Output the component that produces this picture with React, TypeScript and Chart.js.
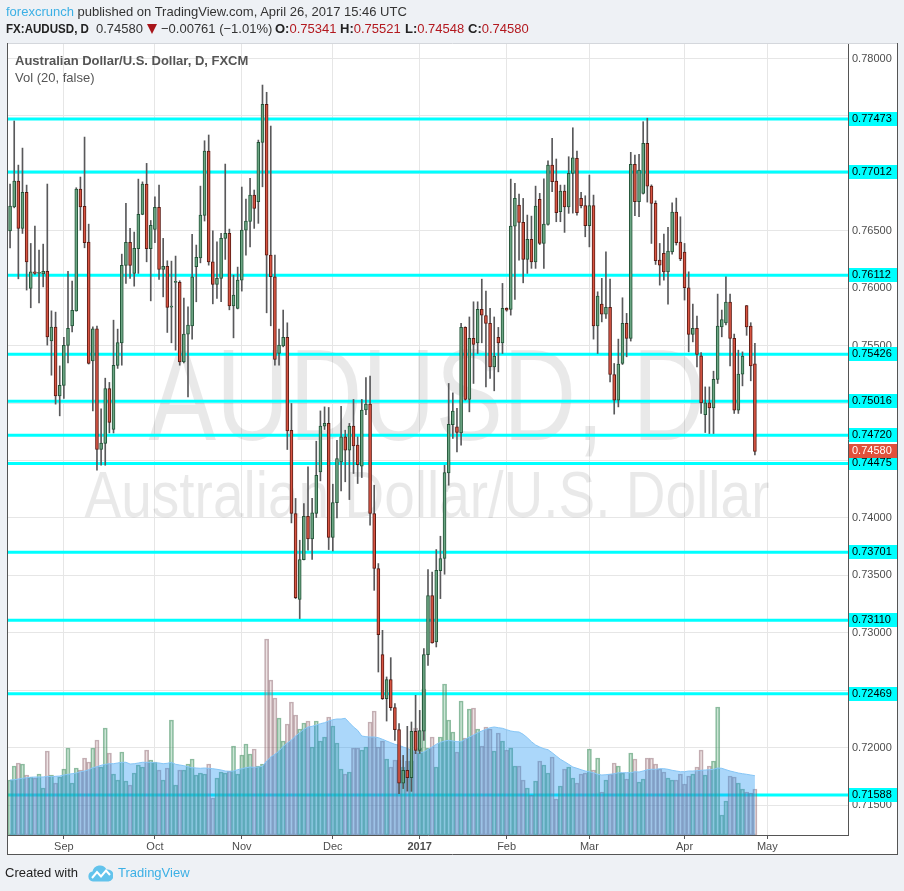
import React, { useEffect, useRef } from 'react';
import { Chart, registerables } from 'chart.js';

Chart.register(...registerables);

// ---------- data (daily AUDUSD, FXCM, Aug 15 2016 – Apr 26 2017) ----------
const OPEN = [
  0.7650, 0.76709, 0.76933, 0.76521, 0.76835, 0.75998, 0.76143, 0.7613, 0.76124, 0.76147,
  0.75542, 0.75661, 0.75063, 0.75154, 0.75502, 0.75673, 0.75803, 0.76863, 0.76713, 0.76402,
  0.75368, 0.75647, 0.74596, 0.74649, 0.75127, 0.7477, 0.75328, 0.75525, 0.76199, 0.76399,
  0.76129, 0.76344, 0.76643, 0.76907, 0.76344, 0.76512, 0.76704, 0.76164, 0.7619, 0.75836,
  0.7605, 0.76051, 0.75359, 0.756, 0.75673, 0.76187, 0.76265, 0.76634, 0.77194, 0.7623,
  0.76033, 0.76086, 0.76434, 0.76477, 0.75847, 0.75824, 0.76071, 0.76506, 0.76582, 0.76811,
  0.76753, 0.7727, 0.77601, 0.76288, 0.761, 0.75432, 0.75498, 0.75572, 0.74764, 0.74039,
  0.7329, 0.73638, 0.74015, 0.73817, 0.74039, 0.74401, 0.74799, 0.74823, 0.7383, 0.74134,
  0.74488, 0.74706, 0.7459, 0.74801, 0.74634, 0.7445, 0.7494, 0.74991, 0.74039, 0.7356,
  0.72811, 0.72427, 0.72593, 0.72349, 0.72157, 0.71692, 0.71803, 0.71739, 0.72142, 0.71977,
  0.72145, 0.72811, 0.73324, 0.7292, 0.73542, 0.73647, 0.74393, 0.74813, 0.74793, 0.74741,
  0.75659, 0.75032, 0.75563, 0.75525, 0.75816, 0.75763, 0.75694, 0.75316, 0.75572, 0.75525,
  0.75824, 0.75816, 0.76541, 0.76724, 0.76573, 0.76251, 0.76425, 0.7623, 0.76774, 0.7639,
  0.76555, 0.77072, 0.76933, 0.76666, 0.76846, 0.76709, 0.77, 0.77131, 0.76782, 0.7672,
  0.76544, 0.7672, 0.75673, 0.75862, 0.75775, 0.75833, 0.75249, 0.75025, 0.75345, 0.75694,
  0.75563, 0.77078, 0.76753, 0.76826, 0.77261, 0.76889, 0.76739, 0.76245, 0.76303, 0.76143,
  0.76317, 0.76663, 0.76402, 0.76315, 0.76004, 0.75598, 0.7565, 0.75411, 0.749, 0.75002,
  0.74958, 0.75206, 0.75664, 0.75699, 0.75879, 0.75563, 0.74938, 0.75252, 0.7585, 0.7567,
  0.75341,
];

const HIGH = [
  0.76907, 0.77456, 0.77072, 0.7722, 0.76898, 0.7639, 0.76541, 0.76332, 0.76384, 0.76907,
  0.75803, 0.75792, 0.75324, 0.75572, 0.76147, 0.76062, 0.76875, 0.76968, 0.77316, 0.76558,
  0.75664, 0.7567, 0.7495, 0.75217, 0.7518, 0.75722, 0.75644, 0.76297, 0.76739, 0.76521,
  0.76489, 0.7695, 0.76926, 0.77087, 0.7659, 0.76796, 0.76898, 0.76434, 0.76239, 0.76236,
  0.7628, 0.76065, 0.75914, 0.75838, 0.76469, 0.76376, 0.76889, 0.77284, 0.77334, 0.765,
  0.76404, 0.76477, 0.77081, 0.76515, 0.76114, 0.76184, 0.76881, 0.76776, 0.76957, 0.76855,
  0.7729, 0.77769, 0.77706, 0.77412, 0.76288, 0.75644, 0.7581, 0.75699, 0.74997, 0.7417,
  0.73806, 0.74126, 0.74445, 0.7417, 0.74668, 0.74932, 0.74967, 0.74962, 0.74294, 0.74677,
  0.74973, 0.74764, 0.74823, 0.75032, 0.74706, 0.75032, 0.75223, 0.75235, 0.74285, 0.73603,
  0.73022, 0.72616, 0.72784, 0.72384, 0.72209, 0.71933, 0.72186, 0.72224, 0.72456, 0.72325,
  0.72863, 0.73551, 0.7353, 0.73725, 0.73841, 0.74459, 0.75171, 0.75089, 0.74954, 0.75694,
  0.75664, 0.7575, 0.75882, 0.75882, 0.76079, 0.75975, 0.75824, 0.7575, 0.75659, 0.76042,
  0.7583, 0.7695, 0.76913, 0.7682, 0.76782, 0.76637, 0.76628, 0.76889, 0.76826, 0.76953,
  0.7711, 0.77305, 0.77125, 0.76898, 0.76898, 0.77145, 0.77397, 0.77194, 0.76835, 0.76805,
  0.76985, 0.76811, 0.75969, 0.76086, 0.76317, 0.76079, 0.75345, 0.75557, 0.75917, 0.75781,
  0.77183, 0.7716, 0.77166, 0.7745, 0.7748, 0.769, 0.76761, 0.7639, 0.76471, 0.7653,
  0.76744, 0.76785, 0.76622, 0.7639, 0.76143, 0.75862, 0.75757, 0.7544, 0.75141, 0.75141,
  0.75278, 0.75949, 0.7581, 0.761, 0.75949, 0.75601, 0.75461, 0.75446, 0.7585, 0.757,
  0.75521,
];

const LOW = [
  0.76352, 0.767, 0.76082, 0.76477, 0.75984, 0.7583, 0.7612, 0.75873, 0.76012, 0.75505,
  0.75243, 0.74991, 0.74889, 0.7504, 0.7535, 0.7562, 0.758, 0.76506, 0.76352, 0.7534,
  0.74932, 0.74416, 0.74459, 0.74459, 0.74741, 0.7474, 0.75302, 0.7533, 0.76042, 0.76086,
  0.76018, 0.76129, 0.7664, 0.7623, 0.7589, 0.76396, 0.76077, 0.75925, 0.75615, 0.75525,
  0.75461, 0.7533, 0.7535, 0.75054, 0.75557, 0.75882, 0.76221, 0.76585, 0.76201, 0.75864,
  0.75911, 0.75882, 0.76251, 0.75812, 0.75568, 0.7582, 0.75975, 0.76288, 0.7636, 0.76521,
  0.76565, 0.76883, 0.75786, 0.75673, 0.7533, 0.7533, 0.7549, 0.74596, 0.73957, 0.73298,
  0.73124, 0.73635, 0.73719, 0.7364, 0.74004, 0.74323, 0.7477, 0.73725, 0.73713, 0.74,
  0.74236, 0.74315, 0.7416, 0.74387, 0.743, 0.74352, 0.749, 0.73937, 0.7337, 0.72659,
  0.7242, 0.72232, 0.72325, 0.72064, 0.716, 0.71644, 0.71622, 0.7162, 0.71948, 0.7195,
  0.72064, 0.72717, 0.7291, 0.72877, 0.73298, 0.7351, 0.74285, 0.74692, 0.74575, 0.74633,
  0.75026, 0.74924, 0.75171, 0.75432, 0.75525, 0.75141, 0.75215, 0.75107, 0.75272, 0.75432,
  0.758, 0.75766, 0.75903, 0.76245, 0.76047, 0.76129, 0.76173, 0.76173, 0.7638, 0.76173,
  0.7655, 0.7684, 0.76579, 0.76579, 0.76486, 0.76652, 0.76654, 0.76637, 0.767, 0.76448,
  0.7636, 0.75557, 0.75432, 0.75707, 0.75737, 0.75185, 0.74904, 0.74967, 0.75336, 0.75403,
  0.7554, 0.76631, 0.76622, 0.7682, 0.7675, 0.7639, 0.76207, 0.76027, 0.7607, 0.75862,
  0.76297, 0.76376, 0.7624, 0.75897, 0.75446, 0.75533, 0.75315, 0.7491, 0.74744, 0.74735,
  0.74735, 0.75171, 0.75577, 0.7568, 0.75324, 0.7491, 0.7491, 0.7515, 0.7559, 0.75194,
  0.74548,
];

const CLOSE = [
  0.76715, 0.76933, 0.76521, 0.76835, 0.7623, 0.76143, 0.7613, 0.76132, 0.76147, 0.75577,
  0.75661, 0.75063, 0.75154, 0.75502, 0.7565, 0.75807, 0.76863, 0.76709, 0.76396, 0.75345,
  0.75647, 0.74596, 0.74651, 0.75127, 0.74831, 0.75328, 0.75528, 0.76199, 0.76399, 0.76199,
  0.76347, 0.76643, 0.76907, 0.76344, 0.76547, 0.76704, 0.76164, 0.7619, 0.75833, 0.75838,
  0.7606, 0.75359, 0.756, 0.75679, 0.761, 0.76268, 0.76637, 0.77194, 0.7623, 0.76033,
  0.76086, 0.76434, 0.76477, 0.75847, 0.7594, 0.76071, 0.76506, 0.76585, 0.76811, 0.76695,
  0.7727, 0.77601, 0.76288, 0.761, 0.7538, 0.75505, 0.75572, 0.74758, 0.74039, 0.73307,
  0.73638, 0.74015, 0.73817, 0.74044, 0.74372, 0.74799, 0.74823, 0.7383, 0.74134, 0.74518,
  0.74706, 0.7459, 0.74801, 0.74628, 0.74463, 0.7494, 0.74991, 0.74039, 0.7356, 0.72985,
  0.72427, 0.72593, 0.72349, 0.72157, 0.71692, 0.71803, 0.71739, 0.72142, 0.71977, 0.7215,
  0.72811, 0.73324, 0.72912, 0.73545, 0.73647, 0.74396, 0.74816, 0.7493, 0.74744, 0.75659,
  0.75032, 0.75563, 0.75511, 0.75816, 0.75766, 0.75694, 0.75316, 0.75409, 0.75525, 0.75824,
  0.7581, 0.76541, 0.76782, 0.76573, 0.76251, 0.76425, 0.7623, 0.76715, 0.7639, 0.76558,
  0.77072, 0.76927, 0.76657, 0.76846, 0.76709, 0.77, 0.77136, 0.76657, 0.76718, 0.76544,
  0.7672, 0.75673, 0.75931, 0.75775, 0.75833, 0.75249, 0.75025, 0.75339, 0.75694, 0.75563,
  0.77078, 0.76753, 0.77029, 0.77261, 0.76889, 0.76739, 0.76239, 0.76201, 0.76143, 0.76323,
  0.76663, 0.76396, 0.76256, 0.76004, 0.75598, 0.7565, 0.75424, 0.75002, 0.75002, 0.74958,
  0.75206, 0.7567, 0.75728, 0.75879, 0.75563, 0.74938, 0.75252, 0.75409, 0.75664, 0.75324,
  0.7458,
];

const VOLUME = [
  55, 69, 72, 71, 60, 58, 57, 61, 47, 84,
  60, 52, 58, 66, 87, 52, 67, 65, 77, 73,
  87, 95, 68, 107, 82, 61, 55, 83, 54, 50,
  62, 70, 68, 85, 75, 73, 65, 55, 67, 115,
  50, 65, 65, 71, 76, 60, 62, 61, 71, 37,
  57, 63, 62, 64, 89, 61, 80, 91, 81, 86,
  69, 71, 196, 155, 137, 117, 94, 111, 133, 120,
  106, 112, 114, 88, 114, 94, 98, 118, 109, 92,
  66, 61, 63, 87, 87, 85, 88, 113, 124, 88,
  94, 76, 68, 75, 75, 68, 74, 74, 107, 87,
  146, 87, 98, 68, 98, 151, 115, 103, 83, 134,
  97, 126, 127, 106, 89, 108, 106, 84, 102, 94,
  85, 87, 69, 69, 55, 47, 40, 54, 74, 70,
  62, 78, 36, 49, 66, 68, 57, 52, 61, 62,
  86, 65, 77, 43, 55, 61, 72, 69, 62, 56,
  82, 76, 53, 56, 77, 77, 71, 66, 63, 57,
  55, 55, 61, 51, 59, 61, 68, 85, 60, 69,
  74, 128, 20, 34, 59, 58, 52, 46, 43, 42,
  46,
];

const VOLUME_MA = [
  55, 55.3, 56, 56.7, 57.3, 57.7, 58, 58, 58, 58.7,
  58.3, 58.7, 59, 60, 60.7, 61.3, 62, 63.3, 64, 65.3,
  67.3, 68.3, 69.7, 70.7, 71.3, 71.3, 72, 72.7, 72.7, 71,
  71.3, 72, 72.7, 72.7, 72.7, 72.3, 72, 71.3, 71.7, 72.7,
  70.7, 70, 69.3, 68.3, 67.3, 67, 66.7, 67, 66.7, 66.3,
  65.7, 65, 64, 63.7, 64, 65.3, 66.3, 67.3, 68, 67.7,
  68, 68.7, 74, 78, 80.7, 84, 88.7, 92, 95, 99,
  102.3, 105.7, 108, 108.7, 110, 111.3, 112.3, 114, 115.3, 116,
  116, 116.7, 112.3, 108, 104.7, 99, 98.3, 98, 98, 97.3,
  95.7, 94, 92.3, 90.7, 89.7, 88, 86.7, 84.7, 83.3, 82.3,
  83, 85.7, 88, 90.7, 92.7, 94, 94.7, 94, 93.3, 93.3,
  95.7, 98, 100, 102.3, 104, 105.7, 107.3, 108, 107.3, 106.7,
  105.3, 104, 103.3, 103, 100.7, 97.3, 93.3, 90, 88, 86.3,
  85.3, 82.3, 79, 75.7, 73.3, 70.7, 68, 66.7, 65.3, 64,
  63.3, 62.3, 60.7, 60, 60.3, 60.7, 61.3, 62.3, 62.3, 62.3,
  62.3, 63.3, 63, 64, 65.3, 65.7, 65.7, 66.3, 66.3, 65.7,
  64.7, 64, 63.3, 63.3, 64, 64, 64.3, 64.7, 65, 65.3,
  65.7, 67, 66.7, 65.3, 64, 63, 62, 61.3, 60.7, 60,
  59.3,
];

const LEVELS = [0.77473, 0.77012, 0.76112, 0.75426, 0.75016, 0.7472, 0.74475, 0.73701, 0.7311, 0.72469, 0.71588];
const LAST_PRICE = 0.7458;
const PRICE_TICKS = [0.715, 0.72, 0.725, 0.73, 0.735, 0.74, 0.745, 0.75, 0.755, 0.76, 0.765, 0.77, 0.775, 0.78];
const MONTH_TICKS = [13, 35, 56, 78, 99, 120, 140, 163, 183];
const MONTH_LABELS = ['Sep', 'Oct', 'Nov', 'Dec', '2017', 'Feb', 'Mar', 'Apr', 'May'];
const N_SLOTS = 203;
const Y_MIN = 0.7124;
const Y_MAX = 0.78135;
const VOL_MAX = 792;

// ---------- styles ----------
const FONT = '"Liberation Sans", Arial, sans-serif';
const UP = '#6ba583';
const DOWN = '#d75442';
const UP_BORDER = '#225437';
const DOWN_BORDER = '#5b1a13';
const WICK = '#59595b';
const VOL_UP = 'rgba(100,175,130,0.33)';
const VOL_UP_B = 'rgba(70,145,100,0.6)';
const VOL_DOWN = 'rgba(175,135,140,0.24)';
const VOL_DOWN_B = 'rgba(140,100,110,0.5)';
const PAGE_BG = '#eef1f5';
const RED_TXT = '#b3191f';
const BLUE_TXT = '#3cb0e5';

function drawFitted(ctx: CanvasRenderingContext2D, text: string, cx: number, baseline: number, size: number, width: number) {
  ctx.font = `${size}px ${FONT}`;
  const w = ctx.measureText(text).width;
  ctx.save();
  ctx.translate(cx, baseline);
  ctx.scale(width / w, 1);
  ctx.textAlign = 'center';
  ctx.textBaseline = 'alphabetic';
  ctx.fillText(text, 0, 0);
  ctx.restore();
}

export default function App() {
  const ref = useRef<HTMLCanvasElement>(null);

  useEffect(() => {
    const canvas = ref.current;
    if (!canvas) return;
    const labels = Array.from({ length: N_SLOTS }, (_, i) => String(i));
    const isUp = OPEN.map((o, i) => CLOSE[i] >= o);

    const decor = {
      id: 'decor',
      beforeDraw(chart: any) {
        const { ctx } = chart;
        ctx.save();
        ctx.fillStyle = '#ffffff';
        ctx.fillRect(7, 43, 891, 812);
        ctx.restore();
      },
      beforeDatasetsDraw(chart: any) {
        const { ctx, chartArea: a, scales } = chart;
        ctx.save();
        ctx.beginPath();
        ctx.rect(a.left - 1, a.top, a.right - a.left + 1, a.bottom - a.top);
        ctx.clip();
        ctx.fillStyle = 'rgba(0,0,0,0.085)';
        drawFitted(ctx, 'AUDUSD, D', 427, 440, 130, 557);
        drawFitted(ctx, 'Australian Dollar/U.S. Dollar', 427, 517, 64, 685);
        ctx.strokeStyle = '#00ffff';
        ctx.lineWidth = 3;
        for (const v of LEVELS) {
          const y = scales.y.getPixelForValue(v);
          ctx.beginPath();
          ctx.moveTo(a.left - 1, y);
          ctx.lineTo(a.right, y);
          ctx.stroke();
        }
        ctx.restore();
      },
      afterDraw(chart: any) {
        const { ctx, chartArea: a, scales } = chart;
        ctx.save();
        // frame
        ctx.lineWidth = 1;
        ctx.strokeStyle = '#d4d7dc';
        ctx.beginPath();
        ctx.moveTo(7, 43.5);
        ctx.lineTo(898, 43.5);
        ctx.stroke();
        ctx.strokeStyle = '#555555';
        ctx.beginPath();
        ctx.moveTo(7.5, 43);
        ctx.lineTo(7.5, 855);
        ctx.moveTo(897.5, 43);
        ctx.lineTo(897.5, 855);
        ctx.moveTo(7, 854.5);
        ctx.lineTo(898, 854.5);
        ctx.stroke();
        // price labels
        ctx.font = `11px ${FONT}`;
        ctx.textBaseline = 'middle';
        ctx.textAlign = 'left';
        for (const v of LEVELS) {
          const y = scales.y.getPixelForValue(v);
          ctx.fillStyle = '#00ffff';
          ctx.fillRect(a.right + 1, Math.round(y) - 7, 48, 14);
          ctx.fillStyle = '#000000';
          ctx.fillText(v.toFixed(5), a.right + 4, Math.round(y));
        }
        const yl = scales.y.getPixelForValue(LAST_PRICE);
        ctx.fillStyle = '#e0513c';
        ctx.fillRect(a.right + 1, Math.round(yl) - 7, 48, 14);
        ctx.fillStyle = '#ffffff';
        ctx.fillText(LAST_PRICE.toFixed(5), a.right + 4, Math.round(yl));
        // legend text
        ctx.fillStyle = '#555555';
        ctx.font = `bold 13px ${FONT}`;
        ctx.fillText('Australian Dollar/U.S. Dollar, D, FXCM', 15, 61);
        ctx.font = `13px ${FONT}`;
        ctx.fillText('Vol (20, false)', 15, 78);
        ctx.restore();
      },
    };

    const hiddenTick = (v: number) =>
      LEVELS.some((l) => Math.abs(l - v) < 0.0006) || Math.abs(LAST_PRICE - v) < 0.0006;

    const chart = new Chart(canvas, {
      type: 'bar',
      data: {
        labels,
        datasets: [
          {
            type: 'bar',
            label: 'Volume',
            yAxisID: 'v',
            data: VOLUME,
            backgroundColor: isUp.map((u) => (u ? VOL_UP : VOL_DOWN)),
            borderColor: isUp.map((u) => (u ? VOL_UP_B : VOL_DOWN_B)),
            borderWidth: 1,
            borderSkipped: false,
            barPercentage: 1,
            categoryPercentage: 1,
            grouped: false,
            order: 10,
          } as any,
          {
            type: 'line',
            label: 'Vol MA',
            yAxisID: 'v',
            data: VOLUME_MA,
            borderColor: '#86c6f6',
            borderWidth: 1,
            backgroundColor: 'rgba(33,150,243,0.38)',
            fill: 'origin',
            pointRadius: 0,
            tension: 0,
            order: 9,
          } as any,
          {
            type: 'bar',
            label: 'Wick',
            yAxisID: 'y',
            data: LOW.map((l, i) => [l, HIGH[i]]),
            backgroundColor: WICK,
            barThickness: 1,
            grouped: false,
            order: 8,
          } as any,
          {
            type: 'bar',
            label: 'Body',
            yAxisID: 'y',
            data: OPEN.map((o, i) => [o, CLOSE[i]]),
            backgroundColor: isUp.map((u) => (u ? UP : DOWN)),
            borderColor: isUp.map((u) => (u ? UP_BORDER : DOWN_BORDER)),
            borderWidth: 1,
            borderSkipped: false,
            barThickness: 3,
            minBarLength: 1,
            grouped: false,
            order: 7,
          } as any,
        ],
      },
      options: {
        responsive: false,
        animation: false,
        devicePixelRatio: 1,
        events: [],
        layout: { padding: { left: 8, top: 43, right: 6, bottom: 36 } },
        plugins: { legend: { display: false }, tooltip: { enabled: false } },
        scales: {
          x: {
            type: 'category',
            offset: true,
            grid: { offset: false, color: '#e6e6e6', tickColor: '#555555', tickLength: 4, drawTicks: true },
            border: { display: true, color: '#555555' },
            ticks: {
              autoSkip: false,
              maxRotation: 0,
              minRotation: 0,
              padding: 1,
              color: '#4d4d4d',
              font: (c: any) => ({ family: FONT, size: 11, weight: c.index === 4 ? 'bold' : 'normal' }),
              callback: (_v: any, i: number) => MONTH_LABELS[i],
            },
            afterBuildTicks: (s: any) => {
              s.ticks = MONTH_TICKS.map((v) => ({ value: v }));
            },
            afterFit: (s: any) => {
              s.height = 20;
            },
          } as any,
          y: {
            type: 'linear',
            position: 'right',
            min: Y_MIN,
            max: Y_MAX,
            grid: { color: '#e6e6e6', drawTicks: false },
            border: { display: true, color: '#555555' },
            ticks: {
              padding: 4,
              color: '#4d4d4d',
              font: { family: FONT, size: 11 },
              callback: (v: any) => (hiddenTick(Number(v)) ? '' : Number(v).toFixed(5)),
            },
            afterBuildTicks: (s: any) => {
              s.ticks = PRICE_TICKS.map((v) => ({ value: v }));
            },
            afterFit: (s: any) => {
              s.width = 50;
            },
          } as any,
          v: {
            type: 'linear',
            display: false,
            min: 0,
            max: VOL_MAX,
          },
        },
      },
      plugins: [decor],
    } as any);

    return () => chart.destroy();
  }, []);

  const txt: React.CSSProperties = {
    position: 'absolute',
    whiteSpace: 'nowrap',
    font: `13px ${FONT}`,
    lineHeight: '16px',
    color: '#333333',
  };

  return (
    <div style={{ position: 'absolute', left: 0, top: 0, width: 904, height: 891, background: PAGE_BG, overflow: 'hidden' }}>
      <canvas ref={ref} width={904} height={891} style={{ position: 'absolute', left: 0, top: 0, width: 904, height: 891 }} />
      <div style={{ ...txt, left: 6, top: 4 }}>
        <span style={{ color: BLUE_TXT }}>forexcrunch</span> published on TradingView.com, April 26, 2017 15:46 UTC
      </div>
      <div
        style={{
          ...txt,
          left: 6,
          top: 21,
          fontWeight: 'bold',
          color: '#222',
          transform: 'scaleX(0.89)',
          transformOrigin: 'left center',
        }}
      >
        FX:AUDUSD, D
      </div>
      <div style={{ ...txt, left: 96, top: 21 }}>0.74580</div>
      <svg style={{ position: 'absolute', left: 147, top: 24 }} width={10} height={10}>
        <polygon points="0,0 10,0 5,10" fill="#a8141a" />
      </svg>
      <div style={{ ...txt, left: 161, top: 21 }}>−0.00761 (−1.01%)</div>
      <div style={{ ...txt, left: 275, top: 21 }}>
        <b style={{ color: '#222' }}>O:</b>
        <span style={{ color: RED_TXT }}>0.75341</span>
      </div>
      <div style={{ ...txt, left: 340, top: 21 }}>
        <b style={{ color: '#222' }}>H:</b>
        <span style={{ color: RED_TXT }}>0.75521</span>
      </div>
      <div style={{ ...txt, left: 405, top: 21 }}>
        <b style={{ color: '#222' }}>L:</b>
        <span style={{ color: RED_TXT }}>0.74548</span>
      </div>
      <div style={{ ...txt, left: 468, top: 21 }}>
        <b style={{ color: '#222' }}>C:</b>
        <span style={{ color: RED_TXT }}>0.74580</span>
      </div>
      <div style={{ ...txt, left: 5, top: 865, color: '#222' }}>Created with</div>
      <svg style={{ position: 'absolute', left: 88, top: 864 }} width={25} height={18} viewBox="0 0 25 18">
        <path d="M5 17.5 A5 5 0 0 1 4.5 7.6 A7.5 7.5 0 0 1 18.5 5.5 A6 6 0 0 1 20.5 17.5 Z" fill="#62c3ec" />
        <polyline points="4,14 9,8 13,12.5 18,6.5 22,11" stroke="#ffffff" strokeWidth={2} fill="none" />
      </svg>
      <div style={{ ...txt, left: 118, top: 865, color: BLUE_TXT }}>TradingView</div>
    </div>
  );
}
